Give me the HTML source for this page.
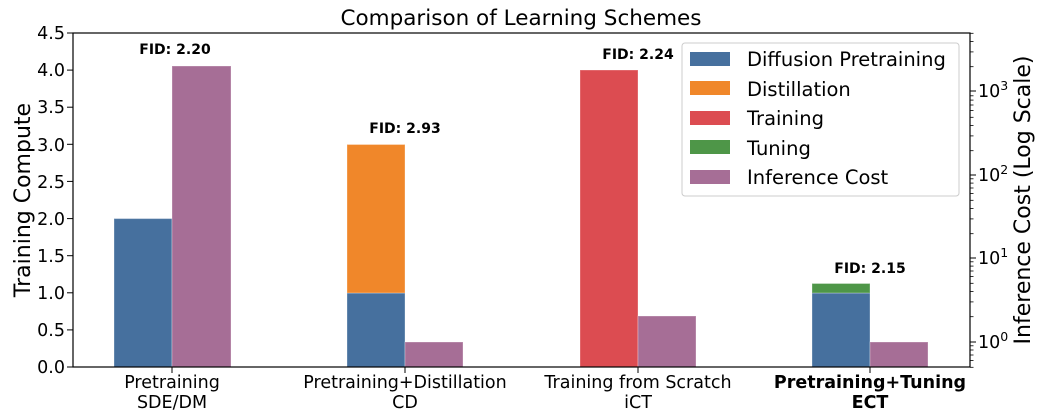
<!DOCTYPE html>
<html><head><meta charset="utf-8"><style>body{margin:0;background:#fff}svg{display:block;font-family:"DejaVu Sans","Liberation Sans",sans-serif}</style></head>
<body>
<svg width="1040" height="418" viewBox="0 0 1040 418">
<text x="521" y="25" font-size="21.5" text-anchor="middle">Comparison of Learning Schemes</text>
<g stroke="#fff" stroke-opacity="0.3" stroke-width="1">
<rect x="114" y="218.6" width="58" height="148.4" fill="#46709e"/>
<rect x="172" y="66" width="59" height="301" fill="#a66e96"/>
<rect x="347" y="293" width="58" height="74" fill="#46709e"/>
<rect x="347" y="144.5" width="58" height="148.5" fill="#f0872a"/>
<rect x="405" y="342" width="58" height="25" fill="#a66e96"/>
<rect x="580" y="70" width="58" height="297" fill="#dc4c51"/>
<rect x="638" y="316" width="58" height="51" fill="#a66e96"/>
<rect x="812" y="293" width="58" height="74" fill="#46709e"/>
<rect x="812" y="283.5" width="58" height="9.5" fill="#4e9648"/>
<rect x="870" y="342" width="58" height="25" fill="#a66e96"/>
</g>
<g font-size="14" font-weight="bold" text-anchor="middle">
<text x="175" y="54">FID: 2.20</text>
<text x="405" y="133">FID: 2.93</text>
<text x="638" y="59">FID: 2.24</text>
<text x="870" y="273">FID: 2.15</text>
</g>
<rect x="73" y="33" width="897" height="334" fill="none" stroke="#000" stroke-width="1.2"/>
<g stroke="#000">
<line x1="67" y1="367" x2="73" y2="367"/><line x1="67" y1="329.9" x2="73" y2="329.9"/><line x1="67" y1="292.8" x2="73" y2="292.8"/><line x1="67" y1="255.7" x2="73" y2="255.7"/><line x1="67" y1="218.6" x2="73" y2="218.6"/><line x1="67" y1="181.4" x2="73" y2="181.4"/><line x1="67" y1="144.3" x2="73" y2="144.3"/><line x1="67" y1="107.2" x2="73" y2="107.2"/><line x1="67" y1="70.1" x2="73" y2="70.1"/><line x1="67" y1="33" x2="73" y2="33"/>
</g>
<g font-size="17.5" text-anchor="end">
<text x="65" y="373">0.0</text><text x="65" y="336">0.5</text><text x="65" y="299">1.0</text><text x="65" y="262">1.5</text><text x="65" y="225">2.0</text><text x="65" y="188">2.5</text><text x="65" y="151">3.0</text><text x="65" y="113">3.5</text><text x="65" y="76">4.0</text><text x="65" y="39">4.5</text>
</g>
<text transform="translate(30,200) rotate(-90)" font-size="22" text-anchor="middle">Training Compute</text>
<g stroke="#000">
<line x1="172" y1="367" x2="172" y2="373"/><line x1="405" y1="367" x2="405" y2="373"/><line x1="638" y1="367" x2="638" y2="373"/><line x1="870" y1="367" x2="870" y2="373"/>
<line x1="970" y1="342" x2="976" y2="342"/><line x1="970" y1="258" x2="976" y2="258"/><line x1="970" y1="175" x2="976" y2="175"/><line x1="970" y1="91" x2="976" y2="91"/>
</g>
<g stroke="#000" stroke-width="0.8">
<line x1="970" y1="367.3" x2="973.5" y2="367.3"/><line x1="970" y1="360.6" x2="973.5" y2="360.6"/><line x1="970" y1="355" x2="973.5" y2="355"/><line x1="970" y1="350" x2="973.5" y2="350"/><line x1="970" y1="345.8" x2="973.5" y2="345.8"/>
<line x1="970" y1="316.7" x2="973.5" y2="316.7"/><line x1="970" y1="301.9" x2="973.5" y2="301.9"/><line x1="970" y1="291.4" x2="973.5" y2="291.4"/><line x1="970" y1="283.3" x2="973.5" y2="283.3"/><line x1="970" y1="276.6" x2="973.5" y2="276.6"/><line x1="970" y1="271" x2="973.5" y2="271"/><line x1="970" y1="266.1" x2="973.5" y2="266.1"/><line x1="970" y1="261.8" x2="973.5" y2="261.8"/>
<line x1="970" y1="233.7" x2="973.5" y2="233.7"/><line x1="970" y1="218.9" x2="973.5" y2="218.9"/><line x1="970" y1="208.4" x2="973.5" y2="208.4"/><line x1="970" y1="200.3" x2="973.5" y2="200.3"/><line x1="970" y1="193.6" x2="973.5" y2="193.6"/><line x1="970" y1="188" x2="973.5" y2="188"/><line x1="970" y1="183.1" x2="973.5" y2="183.1"/><line x1="970" y1="178.8" x2="973.5" y2="178.8"/>
<line x1="970" y1="150.7" x2="973.5" y2="150.7"/><line x1="970" y1="135.9" x2="973.5" y2="135.9"/><line x1="970" y1="125.4" x2="973.5" y2="125.4"/><line x1="970" y1="117.3" x2="973.5" y2="117.3"/><line x1="970" y1="110.6" x2="973.5" y2="110.6"/><line x1="970" y1="105" x2="973.5" y2="105"/><line x1="970" y1="100.1" x2="973.5" y2="100.1"/><line x1="970" y1="95.8" x2="973.5" y2="95.8"/>
<line x1="970" y1="66.7" x2="973.5" y2="66.7"/><line x1="970" y1="51.9" x2="973.5" y2="51.9"/><line x1="970" y1="41.4" x2="973.5" y2="41.4"/><line x1="970" y1="33.3" x2="973.5" y2="33.3"/>
</g>
<g font-size="17.5">
<text x="978" y="348">10<tspan font-size="12.5" dy="-7">0</tspan></text>
<text x="978" y="264">10<tspan font-size="12.5" dy="-7">1</tspan></text>
<text x="978" y="181">10<tspan font-size="12.5" dy="-7">2</tspan></text>
<text x="978" y="97">10<tspan font-size="12.5" dy="-7">3</tspan></text>
</g>
<text transform="translate(1030,200) rotate(-90)" font-size="22" text-anchor="middle">Inference Cost (Log Scale)</text>
<g font-size="17.5" text-anchor="middle">
<text x="172" y="388">Pretraining</text><text x="172" y="408">SDE/DM</text>
<text x="405" y="388">Pretraining+Distillation</text><text x="405" y="408">CD</text>
<text x="638" y="388">Training from Scratch</text><text x="638" y="408">iCT</text>
<text x="870" y="388" font-weight="bold">Pretraining+Tuning</text><text x="870" y="408" font-weight="bold">ECT</text>
</g>
<rect x="682" y="43" width="277" height="153" rx="3" fill="#fff" fill-opacity="0.8" stroke="#ccc"/>
<rect x="690" y="52" width="40" height="14" fill="#46709e"/>
<rect x="690" y="81" width="40" height="14" fill="#f0872a"/>
<rect x="690" y="111" width="40" height="14" fill="#dc4c51"/>
<rect x="690" y="140" width="40" height="14" fill="#4e9648"/>
<rect x="690" y="170" width="40" height="14" fill="#a66e96"/>
<g font-size="19.5">
<text x="747" y="66">Diffusion Pretraining</text>
<text x="747" y="96">Distillation</text>
<text x="747" y="125">Training</text>
<text x="747" y="155">Tuning</text>
<text x="747" y="184">Inference Cost</text>
</g>
</svg>
</body></html>
